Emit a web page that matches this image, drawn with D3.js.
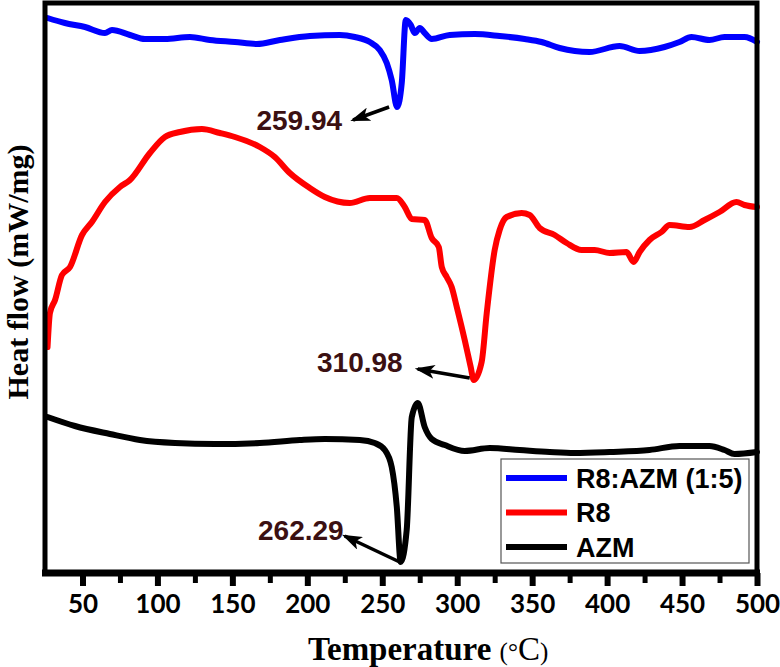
<!DOCTYPE html>
<html>
<head>
<meta charset="utf-8">
<script src="https://cdn.jsdelivr.net/npm/d3@7/dist/d3.min.js"></script>
<style>
body { margin: 0; background: #fff; }
</style>
</head>
<body>
<svg width="780" height="667"></svg>
<script>
var svg = d3.select('svg');

// DSC curves (heat flow in arbitrary offset units)
var blueTemp = [26.7, 38.3, 51.7, 65, 69.7, 81.7, 91.7, 105, 121.7, 135, 151.7, 166.3, 181.7, 201.7, 221.7, 231.7, 241.7, 248.3, 253, 256.3, 259.9, 263, 265.7, 269, 271.7, 275, 278.3, 283, 295, 311.7, 328.3, 345, 356.3, 368.3, 388.3, 408.3, 421.7, 438.3, 448.3, 456.3, 468.3, 478.3, 491.7, 500];
var blueFlow = [5.55, 5.50, 5.46, 5.40, 5.43, 5.38, 5.34, 5.34, 5.36, 5.33, 5.31, 5.29, 5.33, 5.37, 5.38, 5.36, 5.31, 5.23, 5.10, 4.93, 4.66, 4.90, 5.53, 5.48, 5.40, 5.45, 5.40, 5.34, 5.38, 5.39, 5.37, 5.34, 5.31, 5.25, 5.21, 5.27, 5.22, 5.26, 5.31, 5.36, 5.33, 5.36, 5.36, 5.31];

var redTemp = [26.7, 28.3, 31.7, 36.3, 41.7, 49.7, 56.3, 65, 75, 81.7, 95, 105, 115, 129.7, 141.7, 151.7, 168.3, 178.3, 188.3, 201.7, 211.7, 228.3, 241.7, 259.7, 265, 269.7, 278.3, 283, 287.7, 289.7, 293, 296.3, 299.7, 305, 309, 311.0, 316.3, 319.7, 325, 328.3, 333, 343, 348.3, 355, 365, 373, 383, 391.7, 401.7, 413, 417.7, 421.7, 428.3, 436.3, 441.7, 455, 465, 475, 486.3, 491.7, 500];
var redFlow = [2.26, 2.60, 2.73, 2.98, 3.06, 3.38, 3.51, 3.71, 3.86, 3.93, 4.20, 4.36, 4.41, 4.44, 4.40, 4.36, 4.26, 4.16, 4.00, 3.85, 3.76, 3.70, 3.75, 3.75, 3.66, 3.54, 3.53, 3.35, 3.26, 3.06, 2.96, 2.86, 2.66, 2.33, 2.06, 1.93, 2.11, 2.60, 3.23, 3.43, 3.56, 3.60, 3.58, 3.45, 3.38, 3.30, 3.23, 3.23, 3.20, 3.21, 3.11, 3.21, 3.33, 3.41, 3.48, 3.46, 3.53, 3.61, 3.71, 3.68, 3.66];

var azmTemp = [26.7, 45, 68.3, 88.3, 111.7, 138.3, 168.3, 195, 211.7, 235, 245, 251.7, 256.3, 259.7, 262.3, 266.3, 269.7, 273.7, 278.3, 283, 291.7, 305, 321.7, 341.7, 361.7, 378.3, 401.7, 428.3, 448.3, 468.3, 478.3, 485, 500];
var azmFlow = [1.56, 1.47, 1.39, 1.33, 1.30, 1.29, 1.30, 1.33, 1.34, 1.33, 1.30, 1.23, 1.06, 0.66, 0.11, 0.43, 1.56, 1.70, 1.46, 1.34, 1.28, 1.22, 1.25, 1.23, 1.21, 1.20, 1.21, 1.23, 1.27, 1.27, 1.23, 1.19, 1.21];

var seriesNames = ['R8:AZM (1:5)', 'R8', 'AZM'];
var seriesColors = ['#0000ff', '#ff0000', '#000000'];

var xTicks = [50, 100, 150, 200, 250, 300, 350, 400, 450, 500];
var xMinorTicks = [75, 125, 175, 225, 275, 325, 375, 425, 475];

// peak labels: temperature, flow, label
var peakTemp = [259.9, 311.0, 262.3];
var peakFlow = [4.66, 1.93, 0.11];
var peakText = ['259.94', '310.98', '262.29'];

var x = d3.scaleLinear().domain([25, 500]).range([45, 757]);
var y = d3.scaleLinear().domain([0, 5.70]).range([573, 3]);

var series = [
    {temp: blueTemp, flow: blueFlow},
    {temp: redTemp, flow: redFlow},
    {temp: azmTemp, flow: azmFlow}
];

var line = d3.line()
    .x(function(d){ return x(d[0]); })
    .y(function(d){ return y(d[1]); })
    .curve(d3.curveMonotoneX);

svg.selectAll('path.curve')
    .data(series)
    .enter()
    .append('path')
    .attr('class', 'curve')
    .attr('d', function(d){
        return line(d3.zip(d.temp, d.flow));
    })
    .attr('fill', 'none')
    .attr('stroke', function(d, i){ return seriesColors[i]; })
    .attr('stroke-width', 6)
    .attr('stroke-linejoin', 'round')
    .attr('stroke-linecap', 'round');

// frame
svg.append('path')
    .attr('d', 'M' + x(25) + ',' + y(0) + 'V' + y(5.70) + 'H' + x(500) + 'V' + y(0))
    .attr('fill', 'none')
    .attr('stroke', '#000')
    .attr('stroke-width', 5);

// bottom axis
var axisG = svg.append('g')
    .attr('transform', 'translate(0,' + y(0) + ')');

axisG.call(d3.axisBottom(x).tickValues(xMinorTicks).tickSize(10).tickFormat(''))
    .call(function(g){ g.select('.domain').remove(); })
    .selectAll('line').attr('stroke-width', 5);

var major = svg.append('g')
    .attr('transform', 'translate(0,' + y(0) + ')')
    .call(d3.axisBottom(x).tickValues(xTicks).tickSize(13).tickPadding(0));

major.select('.domain').remove();
major.selectAll('line').attr('stroke-width', 6);
major.selectAll('text')
    .attr('y', 40)
    .attr('dy', 0)
    .attr('font-family', 'Lato, sans-serif')
    .attr('font-weight', 700)
    .attr('font-size', 26)
    .attr('fill', '#000');

svg.append('line')
    .attr('x1', x(25) - 3).attr('x2', x(500) + 3)
    .attr('y1', y(0)).attr('y2', y(0))
    .attr('stroke', '#000')
    .attr('stroke-width', 7);

// axis titles
var xt = svg.append('text')
    .attr('x', 308)
    .attr('y', 660)
    .attr('font-family', '"Liberation Serif", "Times New Roman", serif')
    .attr('font-size', 33)
    .attr('fill', '#000');
xt.append('tspan').attr('font-weight', 700).text('Temperature ');
xt.append('tspan').attr('font-size', 25).text('(°');
xt.append('tspan').text('C');
xt.append('tspan').attr('font-size', 25).text(')');

svg.append('text')
    .attr('transform', 'translate(28,272) rotate(-90)')
    .attr('text-anchor', 'middle')
    .attr('font-family', '"Liberation Serif", "Times New Roman", serif')
    .attr('font-weight', 700)
    .attr('font-size', 30)
    .attr('fill', '#000')
    .text('Heat flow (mW/mg)');

// arrows
svg.append('defs').append('marker')
    .attr('id', 'head')
    .attr('markerUnits', 'userSpaceOnUse')
    .attr('viewBox', '0 0 20 14')
    .attr('refX', 17).attr('refY', 7)
    .attr('markerWidth', 20).attr('markerHeight', 14)
    .attr('orient', 'auto')
    .append('path')
    .attr('d', 'M0,0L20,7L0,14L5,7Z')
    .attr('fill', '#000');

// offsets from the peak: arrow tail, arrow head, label end
var arrowLayout = [
    {tail: [-8, 0], head: [-44, 13], text: [-55, 23]},
    {tail: [-4, -2], head: [-56, -11], text: [-71, -8]},
    {tail: [-1, 0], head: [-56, -26], text: [-57, -22]}
];

peakText.forEach(function(label, i){
    var px = x(peakTemp[i]), py = y(peakFlow[i]);
    var a = arrowLayout[i];
    svg.append('line')
        .attr('x1', px + a.tail[0]).attr('y1', py + a.tail[1])
        .attr('x2', px + a.head[0]).attr('y2', py + a.head[1])
        .attr('stroke', '#000')
        .attr('stroke-width', 3.5)
        .attr('marker-end', 'url(#head)');
    svg.append('text')
        .attr('x', px + a.text[0])
        .attr('y', py + a.text[1])
        .attr('text-anchor', 'end')
        .attr('font-family', '"Liberation Sans", Arial, sans-serif')
        .attr('font-weight', 700)
        .attr('font-size', 28)
        .attr('fill', '#3b1012')
        .text(label);
});

// legend
var legend = svg.append('g');
legend.append('rect')
    .attr('x', 501).attr('y', 459)
    .attr('width', 248).attr('height', 104)
    .attr('fill', '#fff')
    .attr('stroke', '#555')
    .attr('stroke-width', 1.2);

seriesNames.forEach(function(name, i){
    var yy = 478 + i * 34.5;
    legend.append('line')
        .attr('x1', 506).attr('x2', 567)
        .attr('y1', yy).attr('y2', yy)
        .attr('stroke', seriesColors[i])
        .attr('stroke-width', 6);
    legend.append('text')
        .attr('x', 576)
        .attr('y', yy + 9.5)
        .attr('font-family', '"Liberation Sans", Arial, sans-serif')
        .attr('font-weight', 700)
        .attr('font-size', 27)
        .attr('fill', '#000')
        .text(name);
});
</script>
</body>
</html>
